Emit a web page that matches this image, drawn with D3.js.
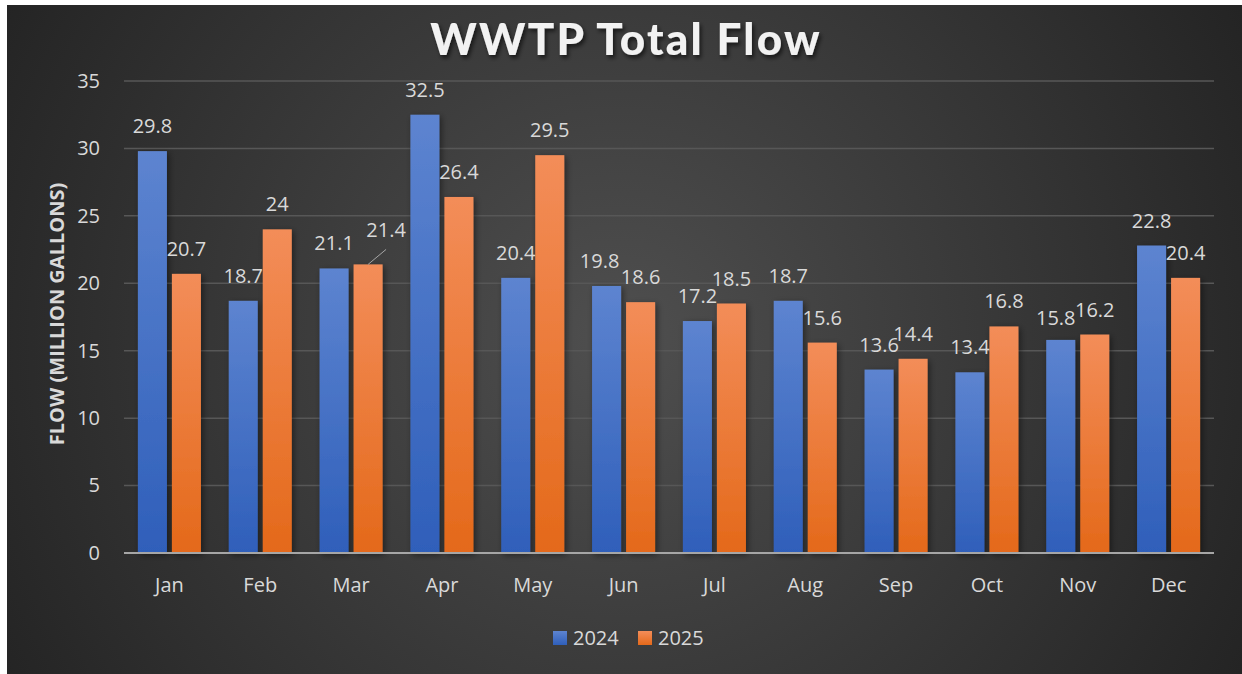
<!DOCTYPE html>
<html>
<head>
<meta charset="utf-8">
<script src="https://cdn.jsdelivr.net/npm/d3@7"></script>
<style>
    body { margin: 0; background: #ffffff; }
    svg { display: block; }
    text { font-family: "Open Sans", "DejaVu Sans", sans-serif; fill: #d9d9d9; }
</style>
</head>
<body>
<svg id="chart"></svg>
<script>
const months = ["Jan", "Feb", "Mar", "Apr", "May", "Jun", "Jul", "Aug", "Sep", "Oct", "Nov", "Dec"];
const seriesNames = ["2024", "2025"];
const flow2024 = [29.8, 18.7, 21.1, 32.5, 20.4, 19.8, 17.2, 18.7, 13.6, 13.4, 15.8, 22.8];
const flow2025 = [20.7, 24, 21.4, 26.4, 29.5, 18.6, 18.5, 15.6, 14.4, 16.8, 16.2, 20.4];
const yTicks = [0, 5, 10, 15, 20, 25, 30, 35];

// labels that were dragged away from their default spot in the original
const labelNudge = {
    "2025-Mar": { dx: 18, dy: -9, leader: true },
    "2024-Jun": { dx: -7, dy: 0 },
    "2024-Nov": { dx: -5, dy: 3 }
};

const W = 1242, H = 674;
const margin = { top: 81, right: 28, bottom: 121, left: 124 };
const width = W - margin.left - margin.right;
const height = H - margin.top - margin.bottom;

const rows = months.map((m, i) => ({
    month: m,
    values: [
        { key: "2024", value: flow2024[i] },
        { key: "2025", value: flow2025[i] }
    ]
}));

const svg = d3.select("#chart").attr("width", W).attr("height", H);
const defs = svg.append("defs");

const bg = defs.append("radialGradient")
    .attr("id", "bg")
    .attr("gradientUnits", "userSpaceOnUse")
    .attr("cx", 620).attr("cy", 340).attr("r", 720);
bg.append("stop").attr("offset", "0%").attr("stop-color", "#4f4f4f");
bg.append("stop").attr("offset", "100%").attr("stop-color", "#232323");

const barColors = {
    "2024": ["#5d84d0", "#2f5fba"],
    "2025": ["#f38d59", "#e4691a"]
};
Object.entries(barColors).forEach(([k, c]) => {
    const g = defs.append("linearGradient").attr("id", "bar" + k)
        .attr("x1", 0).attr("y1", 0).attr("x2", 0).attr("y2", 1);
    g.append("stop").attr("offset", "0%").attr("stop-color", c[0]);
    g.append("stop").attr("offset", "100%").attr("stop-color", c[1]);
});

const shadow = defs.append("filter").attr("id", "shadow")
    .attr("x", "-30%").attr("y", "-10%").attr("width", "160%").attr("height", "130%");
shadow.append("feDropShadow")
    .attr("dx", 2).attr("dy", 2).attr("stdDeviation", 3)
    .attr("flood-color", "#000").attr("flood-opacity", 0.45);

const titleShadow = defs.append("filter").attr("id", "titleShadow")
    .attr("x", "-10%").attr("y", "-30%").attr("width", "120%").attr("height", "160%");
titleShadow.append("feDropShadow")
    .attr("dx", 2).attr("dy", 3).attr("stdDeviation", 2)
    .attr("flood-color", "#000").attr("flood-opacity", 0.6);

svg.append("rect")
    .attr("x", 7).attr("y", 5)
    .attr("width", W - 7).attr("height", H - 5)
    .attr("fill", "url(#bg)");

const container = svg.append("g")
    .attr("transform", `translate(${margin.left}, ${margin.top})`);

const x0 = d3.scaleBand()
    .domain(months)
    .range([0, width])
    .paddingInner(0.306)
    .paddingOuter(0.153);

const x1 = d3.scaleBand()
    .domain(seriesNames)
    .range([0, x0.bandwidth()])
    .paddingInner(0.147);

const y = d3.scaleLinear().domain([0, 35]).range([height, 0]);

// gridlines
container.append("g")
    .selectAll("line")
    .data(yTicks.filter(t => t > 0))
    .join("line")
    .attr("x1", 0).attr("x2", width)
    .attr("y1", d => y(d)).attr("y2", d => y(d))
    .attr("stroke", "#575757")
    .attr("stroke-width", 1.5);

// y axis labels
const yAxis = container.append("g")
    .call(d3.axisLeft(y).tickValues(yTicks).tickSize(0).tickPadding(24));
yAxis.select(".domain").remove();
yAxis.selectAll("text")
    .attr("fill", "#d9d9d9")
    .style("font-family", "'Open Sans', sans-serif")
    .style("font-size", "20px");

// bars
const groups = container.append("g")
    .selectAll("g")
    .data(rows)
    .join("g")
    .attr("transform", d => `translate(${x0(d.month)}, 0)`);

groups.selectAll("rect")
    .data(d => d.values)
    .join("rect")
    .attr("x", d => x1(d.key))
    .attr("y", d => y(d.value))
    .attr("width", x1.bandwidth())
    .attr("height", d => height - y(d.value))
    .attr("fill", d => `url(#bar${d.key})`)
    .attr("filter", "url(#shadow)");

// zero line
container.append("line")
    .attr("x1", 0).attr("x2", width)
    .attr("y1", y(0)).attr("y2", y(0))
    .attr("stroke", "#a6a6a6")
    .attr("stroke-width", 2);

// data labels
groups.each(function (row) {
    const g = d3.select(this);
    row.values.forEach(d => {
        const nudge = labelNudge[d.key + "-" + row.month] || { dx: 0, dy: 0 };
        const cx = x1(d.key) + x1.bandwidth() / 2;
        const top = y(d.value);
        const lx = cx + nudge.dx;
        const ly = top - 25 + nudge.dy;
        if (nudge.leader) {
            g.append("line")
                .attr("x1", cx).attr("y1", top)
                .attr("x2", lx).attr("y2", ly + 19)
                .attr("stroke", "#a6a6a6")
                .attr("stroke-width", 1);
        }
        g.append("text")
            .attr("x", lx)
            .attr("y", ly)
            .attr("dy", "0.35em")
            .attr("text-anchor", "middle")
            .style("font-size", "20px")
            .text(d.value);
    });
});

// x axis labels
const xAxis = container.append("g")
    .attr("transform", `translate(0, ${height})`)
    .call(d3.axisBottom(x0).tickSize(0).tickPadding(25));
xAxis.select(".domain").remove();
xAxis.selectAll("text")
    .attr("fill", "#d9d9d9")
    .style("font-family", "'Open Sans', sans-serif")
    .style("font-size", "20px");

// axis title
svg.append("text")
    .attr("transform", `translate(57, ${margin.top + height / 2 - 3}) rotate(-90)`)
    .attr("text-anchor", "middle")
    .attr("dy", "0.35em")
    .style("font-size", "20px")
    .style("font-weight", "bold")
    .text("FLOW (MILLION GALLONS)");

// chart title
svg.append("text")
    .attr("x", 626)
    .attr("y", 55)
    .attr("text-anchor", "middle")
    .attr("filter", "url(#titleShadow)")
    .style("font-family", "Lato, 'Open Sans', sans-serif")
    .style("font-size", "44px")
    .style("font-weight", 900)
    .style("fill", "#f2f2f2")
    .style("letter-spacing", "2.2px")
    .text("WWTP Total Flow");

// legend
const legend = svg.append("g").attr("transform", "translate(553, 638)");
const legendItems = legend.selectAll("g")
    .data(seriesNames)
    .join("g")
    .attr("transform", (d, i) => `translate(${i * 85}, 0)`);
legendItems.append("rect")
    .attr("x", 0).attr("y", -7)
    .attr("width", 14).attr("height", 14)
    .attr("fill", d => `url(#bar${d})`);
legendItems.append("text")
    .attr("x", 20)
    .attr("dy", "0.35em")
    .style("font-size", "20px")
    .text(d => d);
</script>
</body>
</html>
